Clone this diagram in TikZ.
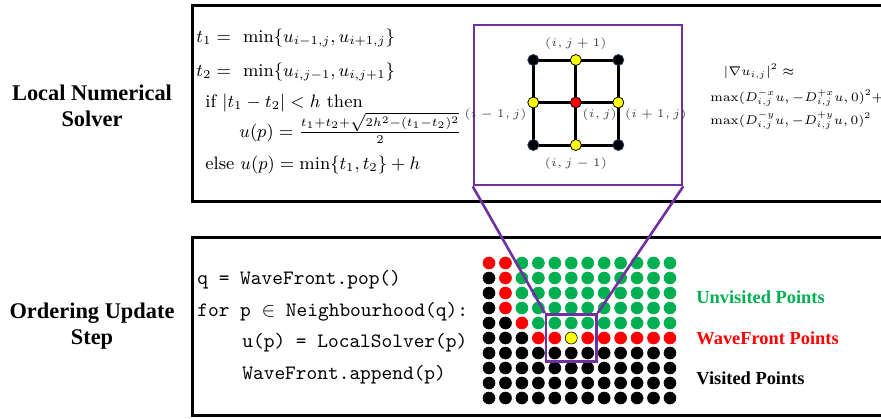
\RequirePackage{fix-cm}
\documentclass[tikz,border=0pt]{standalone}
\usepackage{amsmath}
\usepackage{fontspec}
\usepackage{xcolor}
\usepackage{tikz}
\usetikzlibrary{positioning, fit, backgrounds}
\newfontfamily\headfont{Liberation Serif}
\definecolor{zoompurple}{HTML}{7030A0}
\definecolor{dotgreen}{HTML}{00B050}
\definecolor{dotred}{HTML}{FF0000}
\definecolor{dotyellow}{HTML}{FFFF00}
\definecolor{dotnavy}{HTML}{1F3864}
\definecolor{labelgray}{HTML}{404040}
% dot kinds: 0 visited, 1 wavefront, 2 unvisited, 3 current point
\colorlet{kind0}{black}
\colorlet{kind1}{dotred}
\colorlet{kind2}{dotgreen}
\colorlet{kind3}{dotyellow}
\colorlet{edge0}{black}
\colorlet{edge1}{dotred}
\colorlet{edge2}{dotgreen}
\colorlet{edge3}{black}

\begin{document}
\begin{tikzpicture}[
  x=0.5pt, y=-0.5pt,
  panel/.style     = {line width=1.5pt, black},
  stage/.style     = {font=\headfont\bfseries\fontsize{11.2}{13}\selectfont, align=center},
  eqline/.style    = {anchor=base west, inner sep=0pt, font=\fontsize{9}{11}\selectfont},
  gradline/.style  = {anchor=base west, inner sep=0pt, font=\fontsize{6.3}{8}\selectfont},
  codeline/.style  = {anchor=base west, inner sep=0pt, font=\ttfamily\fontsize{10.2}{12}\selectfont},
  legendtext/.style= {anchor=west, inner sep=0pt, font=\headfont\bfseries\fontsize{9.2}{11}\selectfont},
  gridpt/.style    = {circle, draw=black, line width=0.4pt, inner sep=0pt, minimum size=5.5pt},
  gridlabel/.style = {font=\fontsize{5.8}{7}\selectfont, text=labelgray, inner sep=1pt},
  dot/.style       = {circle, inner sep=0pt, minimum size=6pt, line width=0.3pt},
  zoomline/.style  = {draw=zoompurple, line width=1.3pt},
]
\useasboundingbox (0,0) rectangle (881,418);

% Panels
\draw[panel] (881,5) -- (192,5) -- (192,201) -- (881,201);
\draw[panel] (881,237) -- (192,237) -- (192,415) -- (881,415);

% Stage names
\node[stage] (solverlabel) at (92,106) {Local Numerical\\Solver};
\node[stage] (orderlabel)  at (92,326) {Ordering Update\\Step};

% Local solver
\node[eqline] (eqa) at (196,42)  {$t_1 = \hspace{3.5pt}\min\{u_{i-1,j},u_{i+1,j}\}$};
\node[eqline] (eqb) at (196,76)  {$t_2 = \hspace{3.5pt}\min\{u_{i,j-1},u_{i,j+1}\}$};
\node[eqline] (eqc) at (205,107) {if $|t_1-t_2|<h$ then};
\node[eqline] (eqd) at (239,137) {$u(p) = \frac{t_1+t_2+\sqrt{2h^2-(t_1-t_2)^2}}{2}$};
\node[eqline] (eqe) at (205,169) {else $u(p) = \min\{t_1,t_2\}+h$};

% Stencil
\node[zoomline, minimum width=104pt, minimum height=80pt, inner sep=0pt] (zoombox) at (578,105) {};
\node[gridpt, fill=black, draw=dotnavy] (nw) at (533.3,60)    {};
\node[gridpt, fill=dotyellow]           (n)  at (575.8,60)    {};
\node[gridpt, fill=black, draw=dotnavy] (ne) at (618.3,60)    {};
\node[gridpt, fill=dotyellow]           (w)  at (533.3,102.5) {};
\node[gridpt, fill=dotred]              (c)  at (575.8,102.5) {};
\node[gridpt, fill=dotyellow]           (e)  at (618.3,102.5) {};
\node[gridpt, fill=black, draw=dotnavy] (sw) at (533.3,145)   {};
\node[gridpt, fill=dotyellow]           (s)  at (575.8,145)   {};
\node[gridpt, fill=black, draw=dotnavy] (se) at (618.3,145)   {};
\begin{scope}[on background layer]
  \draw[line width=1.5pt] (nw.center) rectangle (se.center);
  \draw[line width=1.5pt] (n.center) -- (s.center) (w.center) -- (e.center);
\end{scope}
\node[gridlabel, above=1pt of n]        (lbn) {$(i,j+1)$};
\node[gridlabel, below left=0pt of w]   (lbw) {$(i-1,j)$};
\node[gridlabel, below right=0pt of c]  (lbc) {$(i,j)$};
\node[gridlabel, below right=0pt of e]  (lbe) {$(i+1,j)$};
\node[gridlabel, below=2pt of s]        (lbs) {$(i,j-1)$};

% Gradient approximation
\node[gradline, anchor=base] (grad) at (759,75) {$|\nabla u_{i,j}|^2 \approx$};
\node[gradline] (gradx) at (710,101) {$\max(D^{-x}_{i,j}u,-D^{+x}_{i,j}u,0)^2+$};
\node[gradline] (grady) at (710,124) {$\max(D^{-y}_{i,j}u,-D^{+y}_{i,j}u,0)^2$};

% Ordering update
\node[codeline] (popline)    at (197,284) {q = WaveFront.pop()};
\node[codeline] (forline)    at (197,316) {for p $\in$ Neighbourhood(q):};
\node[codeline] (solveline)  at (242,347) {u(p) = LocalSolver(p)};
\node[codeline] (appendline) at (242,379) {WaveFront.append(p)};

% Point grid: row / visited count / wavefront count
\foreach \r/\nb/\nr in {0/0/2, 1/1/1, 2/1/1, 3/1/1, 4/2/1, 5/3/9, 6/12/0, 7/12/0, 8/12/0, 9/12/0}
  \foreach \c in {0,...,11} {
    \pgfmathtruncatemacro\kind{(\r==5 && \c==5) ? 3 : (\c<\nb ? 0 : (\c<\nb+\nr ? 1 : 2))}
    \node[dot, fill=kind\kind, draw=edge\kind] (p\r-\c) at ({489+16.45*\c},{263+15*\r}) {};
  }
\node[zoomline, fit=(p4-4)(p6-6), inner sep=1.2pt] (focus) {};

% Zoom connectors
\draw[zoomline] (zoombox.south west) -- (focus.north west);
\draw[zoomline] (zoombox.south east) -- (focus.north east);

% Legend
\node[legendtext, text=dotgreen] (unvisited) at (696,297) {Unvisited Points};
\node[legendtext, text=dotred]   (wavefront) at (696,338) {WaveFront Points};
\node[legendtext]                (visited)   at (696,378) {Visited Points};
\end{tikzpicture}
\end{document}
